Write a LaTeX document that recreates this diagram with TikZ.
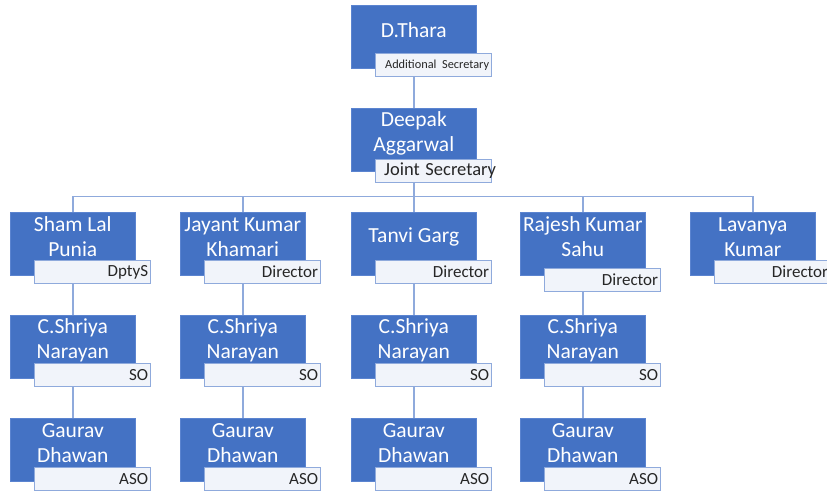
\documentclass[tikz,border=0pt]{standalone}
\usepackage{fontspec}
\setmainfont{Carlito}
\usetikzlibrary{calc,backgrounds}
\definecolor{boxblue}{HTML}{4472C4}
\definecolor{boxedge}{HTML}{5B84D0}
\definecolor{linkblue}{HTML}{8FAADC}
\definecolor{tagfill}{HTML}{F1F4FA}
\tikzset{
  pbox/.style={rectangle, fill=boxblue, draw=boxedge, line width=0.6pt,
    minimum width=125pt, minimum height=63pt, inner sep=0pt},
  ptext/.style={text=white, align=center, inner sep=0pt,
    font=\fontsize{21.5}{25}\selectfont},
  ptag/.style={rectangle, fill=tagfill, draw=linkblue, line width=1.2pt,
    minimum height=23pt, text width=111pt, inner xsep=2.5pt, inner ysep=0pt,
    align=right, text=black!85, font=\fontsize{17}{20}\selectfont},
  link/.style={draw=linkblue, line width=1.4pt},
}
% member{id}{x}{y}{name}{role}{role offset}
\newcommand\member[6]{%
  \node[pbox, anchor=north west] (#1) at (#2,#3) {};
  \node[ptext] (#1-name) at ($(#1.north)+(0,25)$) {#4};
  \node[ptag, anchor=north west] (#1-role) at ($(#1.north west)+(24,#6)$) {#5};
}
\begin{document}
\begin{tikzpicture}[x=1pt,y=-1pt]
\useasboundingbox (0,0) rectangle (827,490);

\member{thara}{351}{5}{D.Thara}{\fontsize{12.3}{14}\selectfont Additional Secretary}{48}
\member{deepak}{351}{108}{Deepak\\Aggarwal}{\fontsize{18.5}{20}\selectfont Joint Secretary\hspace*{-7pt}}{51}

\member{sham}{10}{212}{Sham Lal\\Punia}{DptyS}{48}
\member{jayant}{180}{212}{Jayant Kumar\\Khamari}{Director}{48}
\member{tanvi}{351}{212}{Tanvi Garg}{Director}{48}
\member{rajesh}{520}{212}{Rajesh Kumar\\Sahu}{Director}{56}
\member{lavanya}{690}{212}{Lavanya\\Kumar}{Director}{48}

\member{soa}{10}{315}{C.Shriya\\Narayan}{SO}{48}
\member{sob}{180}{315}{C.Shriya\\Narayan}{SO}{48}
\member{soc}{351}{315}{C.Shriya\\Narayan}{SO}{48}
\member{sod}{520}{315}{C.Shriya\\Narayan}{SO}{48}

\member{asoa}{10}{418}{Gaurav\\Dhawan}{ASO}{49}
\member{asob}{180}{418}{Gaurav\\Dhawan}{ASO}{49}
\member{asoc}{351}{418}{Gaurav\\Dhawan}{ASO}{49}
\member{asod}{520}{418}{Gaurav\\Dhawan}{ASO}{49}

\begin{pgfonlayer}{background}
  \draw[link] (thara.south) -- (deepak.north);
  \foreach \c in {sham,jayant,tanvi,rajesh,lavanya}
    \draw[link] (deepak.south) -- ++(0,25) -| (\c.north);
  \foreach \a/\b in {sham/soa,jayant/sob,tanvi/soc,rajesh/sod,
                     soa/asoa,sob/asob,soc/asoc,sod/asod}
    \draw[link] (\a.south) -- (\b.north);
\end{pgfonlayer}
\end{tikzpicture}
\end{document}
